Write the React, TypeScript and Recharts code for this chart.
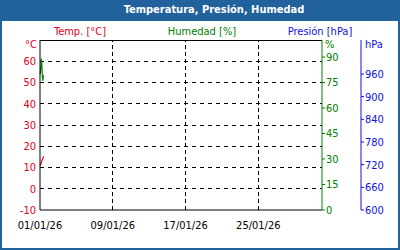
import React from 'react';
import {
    ComposedChart,
    Line,
    XAxis,
    YAxis,
    ReferenceLine,
} from 'recharts';

// time in days since 01/01/26 00:00
const times = [0, 0.05, 0.1, 0.14, 0.18, 0.22, 0.27, 0.32, 0.37, 0.42];
const tempValues = [11, 11.2, 11.8, 12.3, 12.8, 13.4, 13.9, 14.4, 14.9, 15.2];
const humValues = [80, 81, 85, 89, 88, 83, 78, 76, 79, 79];
const presValues = [null, null, null, null, null, null, null, null, null, null];

const xTicks = [0, 8, 16, 24];
const xTickLabels = ['01/01/26', '09/01/26', '17/01/26', '25/01/26'];
const dayTicks = Array.from({ length: 32 }, (_, i) => i);

const tempTicks = [-10, 0, 10, 20, 30, 40, 50, 60];
const humTicks = [0, 15, 30, 45, 60, 75, 90];
const presTicks = [600, 660, 720, 780, 840, 900, 960];

const data = times.map((t, i) => ({
    t,
    temp: tempValues[i],
    hum: humValues[i],
    pres: presValues[i],
}));

const FONT = '"DejaVu Sans Condensed", "DejaVu Sans", sans-serif';
const RED = '#e0001a';
const GREEN = '#008000';
const BLUE = '#1010e0';
const FRAME = '#22629c';

const label = (text: string, x: number, y: number, color: string, anchor = 'middle') => (
    <div
        style={{
            position: 'absolute',
            left: x,
            top: y,
            transform: anchor === 'middle' ? 'translate(-50%, -50%)' : 'translate(0, -50%)',
            color,
            fontSize: 11,
            lineHeight: '12px',
            whiteSpace: 'nowrap',
        }}
    >
        {text}
    </div>
);

const App: React.FC = () => {
    return (
        <div
            style={{
                position: 'absolute',
                left: 0,
                top: 0,
                width: 400,
                height: 250,
                background: FRAME,
                fontFamily: FONT,
                overflow: 'hidden',
            }}
        >
            <div
                style={{
                    position: 'absolute',
                    left: 2,
                    top: 21,
                    width: 396,
                    height: 227,
                    background: '#ffffff',
                }}
            />
            <div
                style={{
                    position: 'absolute',
                    left: 0,
                    top: 0,
                    width: 400,
                    height: 21,
                    lineHeight: '20px',
                    textAlign: 'center',
                    color: '#ffffff',
                    fontWeight: 'bold',
                    fontSize: 11,
                    paddingLeft: 28,
                    boxSizing: 'border-box',
                }}
            >
                Temperatura, Presión, Humedad
            </div>
            {label('Temp. [°C]', 80, 32, RED)}
            {label('Humedad [%]', 202, 32, GREEN)}
            {label('Presión [hPa]', 320, 32, BLUE)}
            {label('°C', 25, 45, RED, 'start')}
            {label('%', 325, 45, GREEN, 'start')}
            {label('hPa', 365, 45, BLUE, 'start')}
            <div style={{ position: 'absolute', left: 0, top: 0 }}>
                <ComposedChart
                    width={400}
                    height={250}
                    data={data}
                    margin={{ top: 40, right: 2, bottom: 0, left: 0 }}
                >
                    <XAxis
                        xAxisId="minor"
                        dataKey="t"
                        type="number"
                        domain={[0, 31]}
                        ticks={dayTicks}
                        tick={false}
                        tickSize={4}
                        height={0}
                        stroke="#000"
                        interval={0}
                    />
                    <XAxis
                        xAxisId="main"
                        dataKey="t"
                        type="number"
                        domain={[0, 31]}
                        ticks={xTicks}
                        interval={0}
                        tickLine={false}
                        tickSize={0}
                        tickMargin={11}
                        height={40}
                        stroke="#000"
                        tick={{ fill: '#000', fontSize: 11, fontFamily: FONT }}
                        tickFormatter={(v: number) => xTickLabels[xTicks.indexOf(v)] ?? ''}
                    />
                    <YAxis
                        yAxisId="temp"
                        orientation="left"
                        type="number"
                        domain={[-10, 70]}
                        ticks={tempTicks}
                        interval={0}
                        width={40}
                        tickLine={false}
                        tickSize={0}
                        tickMargin={4}
                        stroke="#000"
                        tick={{ fill: RED, fontSize: 11, fontFamily: FONT }}
                    />
                    <YAxis
                        yAxisId="hum"
                        orientation="right"
                        type="number"
                        domain={[0, 100]}
                        ticks={humTicks}
                        interval={0}
                        width={39}
                        tickSize={3}
                        tickMargin={1}
                        stroke={GREEN}
                        tick={{ fill: GREEN, fontSize: 11, fontFamily: FONT }}
                    />
                    <YAxis
                        yAxisId="pres"
                        orientation="right"
                        type="number"
                        domain={[600, 1050]}
                        allowDataOverflow
                        ticks={presTicks}
                        interval={0}
                        width={37}
                        tickSize={3}
                        tickMargin={1}
                        stroke={BLUE}
                        tick={{ fill: BLUE, fontSize: 11, fontFamily: FONT }}
                    />
                    {tempTicks.slice(1).map((v) => (
                        <ReferenceLine
                            key={`h${v}`}
                            xAxisId="main"
                            yAxisId="temp"
                            y={v}
                            stroke="#000"
                            strokeDasharray="4 4"
                            shapeRendering="crispEdges"
                        />
                    ))}
                    {xTicks.slice(1).map((v) => (
                        <ReferenceLine
                            key={`v${v}`}
                            xAxisId="main"
                            yAxisId="temp"
                            x={v}
                            stroke="#000"
                            strokeDasharray="4 3"
                            shapeRendering="crispEdges"
                        />
                    ))}
                    <ReferenceLine xAxisId="main" yAxisId="temp" y={70} stroke="#000" shapeRendering="crispEdges" />
                    <Line
                        xAxisId="main"
                        yAxisId="pres"
                        dataKey="pres"
                        stroke={BLUE}
                        dot={false}
                        isAnimationActive={false}
                    />
                    <Line
                        xAxisId="main"
                        yAxisId="temp"
                        dataKey="temp"
                        stroke={RED}
                        strokeWidth={1.2}
                        dot={false}
                        isAnimationActive={false}
                    />
                    <Line
                        xAxisId="main"
                        yAxisId="hum"
                        dataKey="hum"
                        stroke={GREEN}
                        strokeWidth={1.2}
                        dot={false}
                        isAnimationActive={false}
                    />
                </ComposedChart>
            </div>
        </div>
    );
};

export default App;
